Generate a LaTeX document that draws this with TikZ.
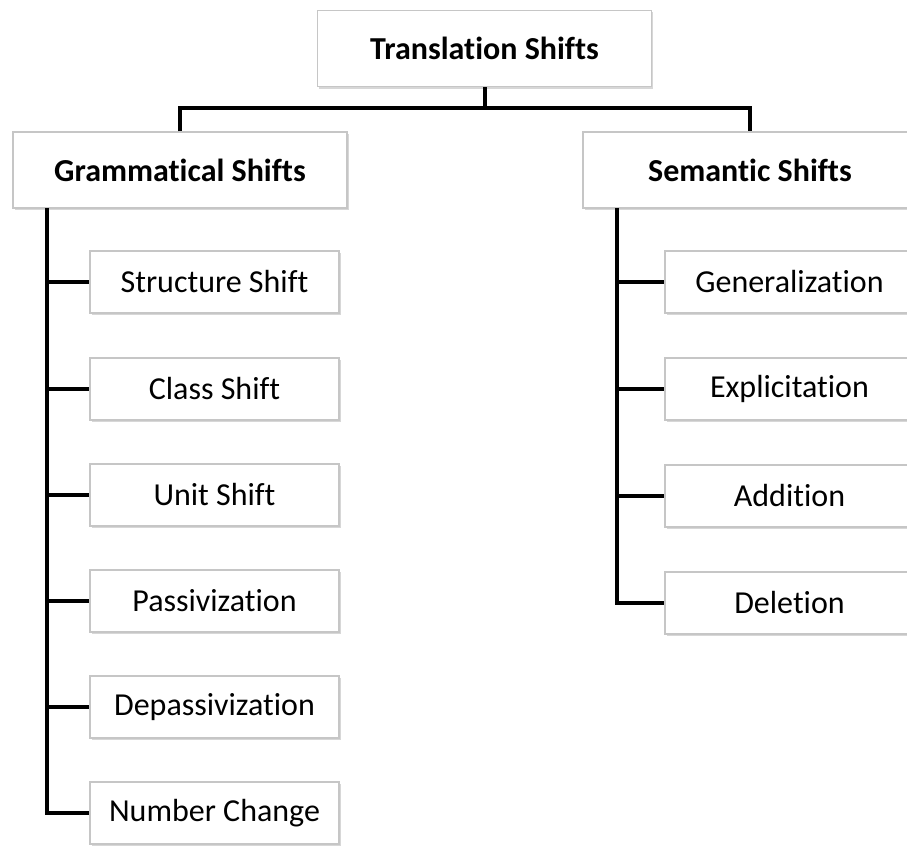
\documentclass[tikz,border=0pt]{standalone}
\usepackage{fontspec}
\setmainfont{Carlito}[Ligatures=NoCommon]
\usetikzlibrary{
    positioning,
    calc,
    shadows
}
\tikzset{
  box/.style    = {draw=gray!45, line width=0.8pt, fill=white,
                   drop shadow={shadow xshift=1.2pt, shadow yshift=-1.6pt,
                                fill=gray!70, opacity=0.45},
                   align=center, inner sep=0pt,
                   font=\fontsize{24}{29}\selectfont},
  rootbox/.style = {box, minimum width=251pt, minimum height=57.5pt,
                   font=\fontsize{24}{29}\selectfont\bfseries},
  headbox/.style = {box, minimum width=250.5pt, minimum height=57pt,
                   font=\fontsize{24}{29}\selectfont\bfseries},
  leafbox/.style = {box, minimum width=186.75pt, minimum height=46.5pt},
  link/.style   = {line width=3pt, black}
}

\begin{document}
\begin{tikzpicture}[x=0.75pt, y=-0.75pt]
\useasboundingbox (0,0) rectangle (907,848);
% top level
\node[rootbox] (root) at (484.5,48.5) {Translation Shifts};
\node[headbox] (gram) at (180,170) {Grammatical Shifts};
\node[headbox] (sem) at (750,170) {Semantic Shifts};
% grammatical shifts
\node[leafbox] (struct) at (214.5,282) {Structure Shift};
\node[leafbox] (class) at (214.5,389) {Class Shift};
\node[leafbox] (unit) at (214.5,495) {Unit Shift};
\node[leafbox] (pass) at (214.5,601) {Passivization};
\node[leafbox] (depass) at (214.5,707) {Depassivization};
\node[leafbox] (number) at (214.5,813) {Number Change};
% semantic shifts
\node[leafbox] (gen) at (789.5,282) {Generalization};
\node[leafbox] (expl) at (789.5,389) {Explicitation};
\node[leafbox] (add) at (789.5,496) {Addition};
\node[leafbox] (del) at (789.5,603) {Deletion};
% connectors
\coordinate (bar) at (484.5,108);
\coordinate (gtrunk) at (47,208);
\coordinate (strunk) at (617,208);
\draw[link] (root.south) -- (bar);
\draw[link] (gram.north) |- (bar) -| (sem.north);
\draw[link] (gtrunk) |- (number.west);
\draw[link] (gtrunk |- struct.west) -- (struct.west);
\draw[link] (gtrunk |- class.west) -- (class.west);
\draw[link] (gtrunk |- unit.west) -- (unit.west);
\draw[link] (gtrunk |- pass.west) -- (pass.west);
\draw[link] (gtrunk |- depass.west) -- (depass.west);
\draw[link] (strunk) |- (del.west);
\draw[link] (strunk |- gen.west) -- (gen.west);
\draw[link] (strunk |- expl.west) -- (expl.west);
\draw[link] (strunk |- add.west) -- (add.west);
\end{tikzpicture}
\end{document}
